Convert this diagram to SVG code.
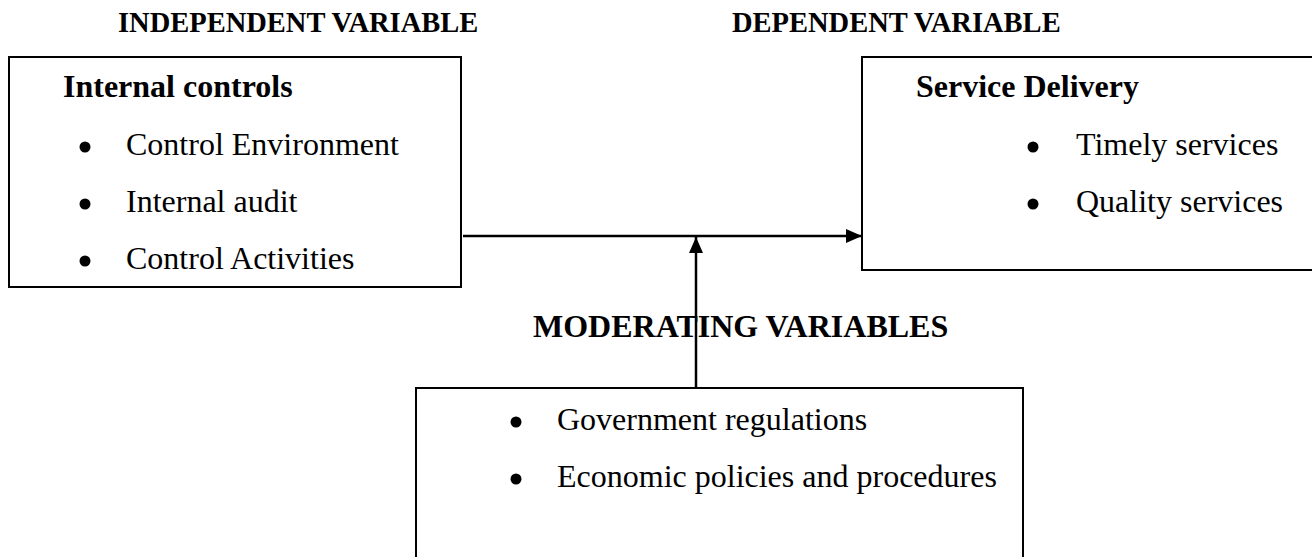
<svg xmlns="http://www.w3.org/2000/svg" width="1312" height="557" viewBox="0 0 1312 557">
  <style>
    .box { fill: #ffffff; stroke: #000000; stroke-width: 2; }
    .head { font-family: "Liberation Serif", "Times New Roman", serif; font-weight: bold; font-size: 28.5px; fill: #000000; }
    .title { font-family: "Liberation Serif", "Times New Roman", serif; font-weight: bold; font-size: 32px; fill: #000000; }
    .item { font-family: "Liberation Serif", "Times New Roman", serif; font-size: 32px; fill: #000000; }
    .dot { fill: #000000; }
    .link { stroke: #000000; stroke-width: 2.5; fill: none; }
  </style>
  <defs>
    <marker id="arrow" viewBox="0 0 16 14" refX="16" refY="7" markerWidth="16" markerHeight="14" markerUnits="userSpaceOnUse" orient="auto">
      <path d="M0,0 L16,7 L0,14 Z" fill="#000000"/>
    </marker>
  </defs>
  <rect width="1312" height="557" fill="#ffffff"/>

  <!-- column headings -->
  <text class="head" x="118" y="32">INDEPENDENT VARIABLE</text>
  <text class="head" x="732" y="32">DEPENDENT VARIABLE</text>

  <!-- independent variable -->
  <g id="internal-controls">
    <rect class="box" x="9" y="57" width="452" height="230"/>
    <text class="title" x="63" y="97">Internal controls</text>
    <circle class="dot" cx="85" cy="147" r="5.5"/>
    <text class="item" x="126" y="155">Control Environment</text>
    <circle class="dot" cx="85" cy="204" r="5.5"/>
    <text class="item" x="126" y="212">Internal audit</text>
    <circle class="dot" cx="85" cy="261" r="5.5"/>
    <text class="item" x="126" y="269">Control Activities</text>
  </g>

  <!-- dependent variable -->
  <g id="service-delivery">
    <rect class="box" x="862" y="57" width="454" height="213"/>
    <text class="title" x="916" y="97">Service Delivery</text>
    <circle class="dot" cx="1033" cy="147" r="5.5"/>
    <text class="item" x="1076" y="155">Timely services</text>
    <circle class="dot" cx="1033" cy="204" r="5.5"/>
    <text class="item" x="1076" y="212">Quality services</text>
  </g>

  <!-- moderating variables -->
  <g id="moderating-variables">
    <rect class="box" x="416" y="388" width="607" height="180"/>
    <circle class="dot" cx="516" cy="422" r="5.5"/>
    <text class="item" x="557" y="430">Government regulations</text>
    <circle class="dot" cx="516" cy="479" r="5.5"/>
    <text class="item" x="557" y="487">Economic policies and procedures</text>
  </g>

  <!-- connectors -->
  <g id="connectors">
    <line class="link" x1="463" y1="236" x2="862" y2="236" marker-end="url(#arrow)"/>
    <line class="link" x1="696" y1="388" x2="696" y2="237" marker-end="url(#arrow)"/>
  </g>

  <text class="title" x="533" y="337">MODERATING VARIABLES</text>
</svg>
